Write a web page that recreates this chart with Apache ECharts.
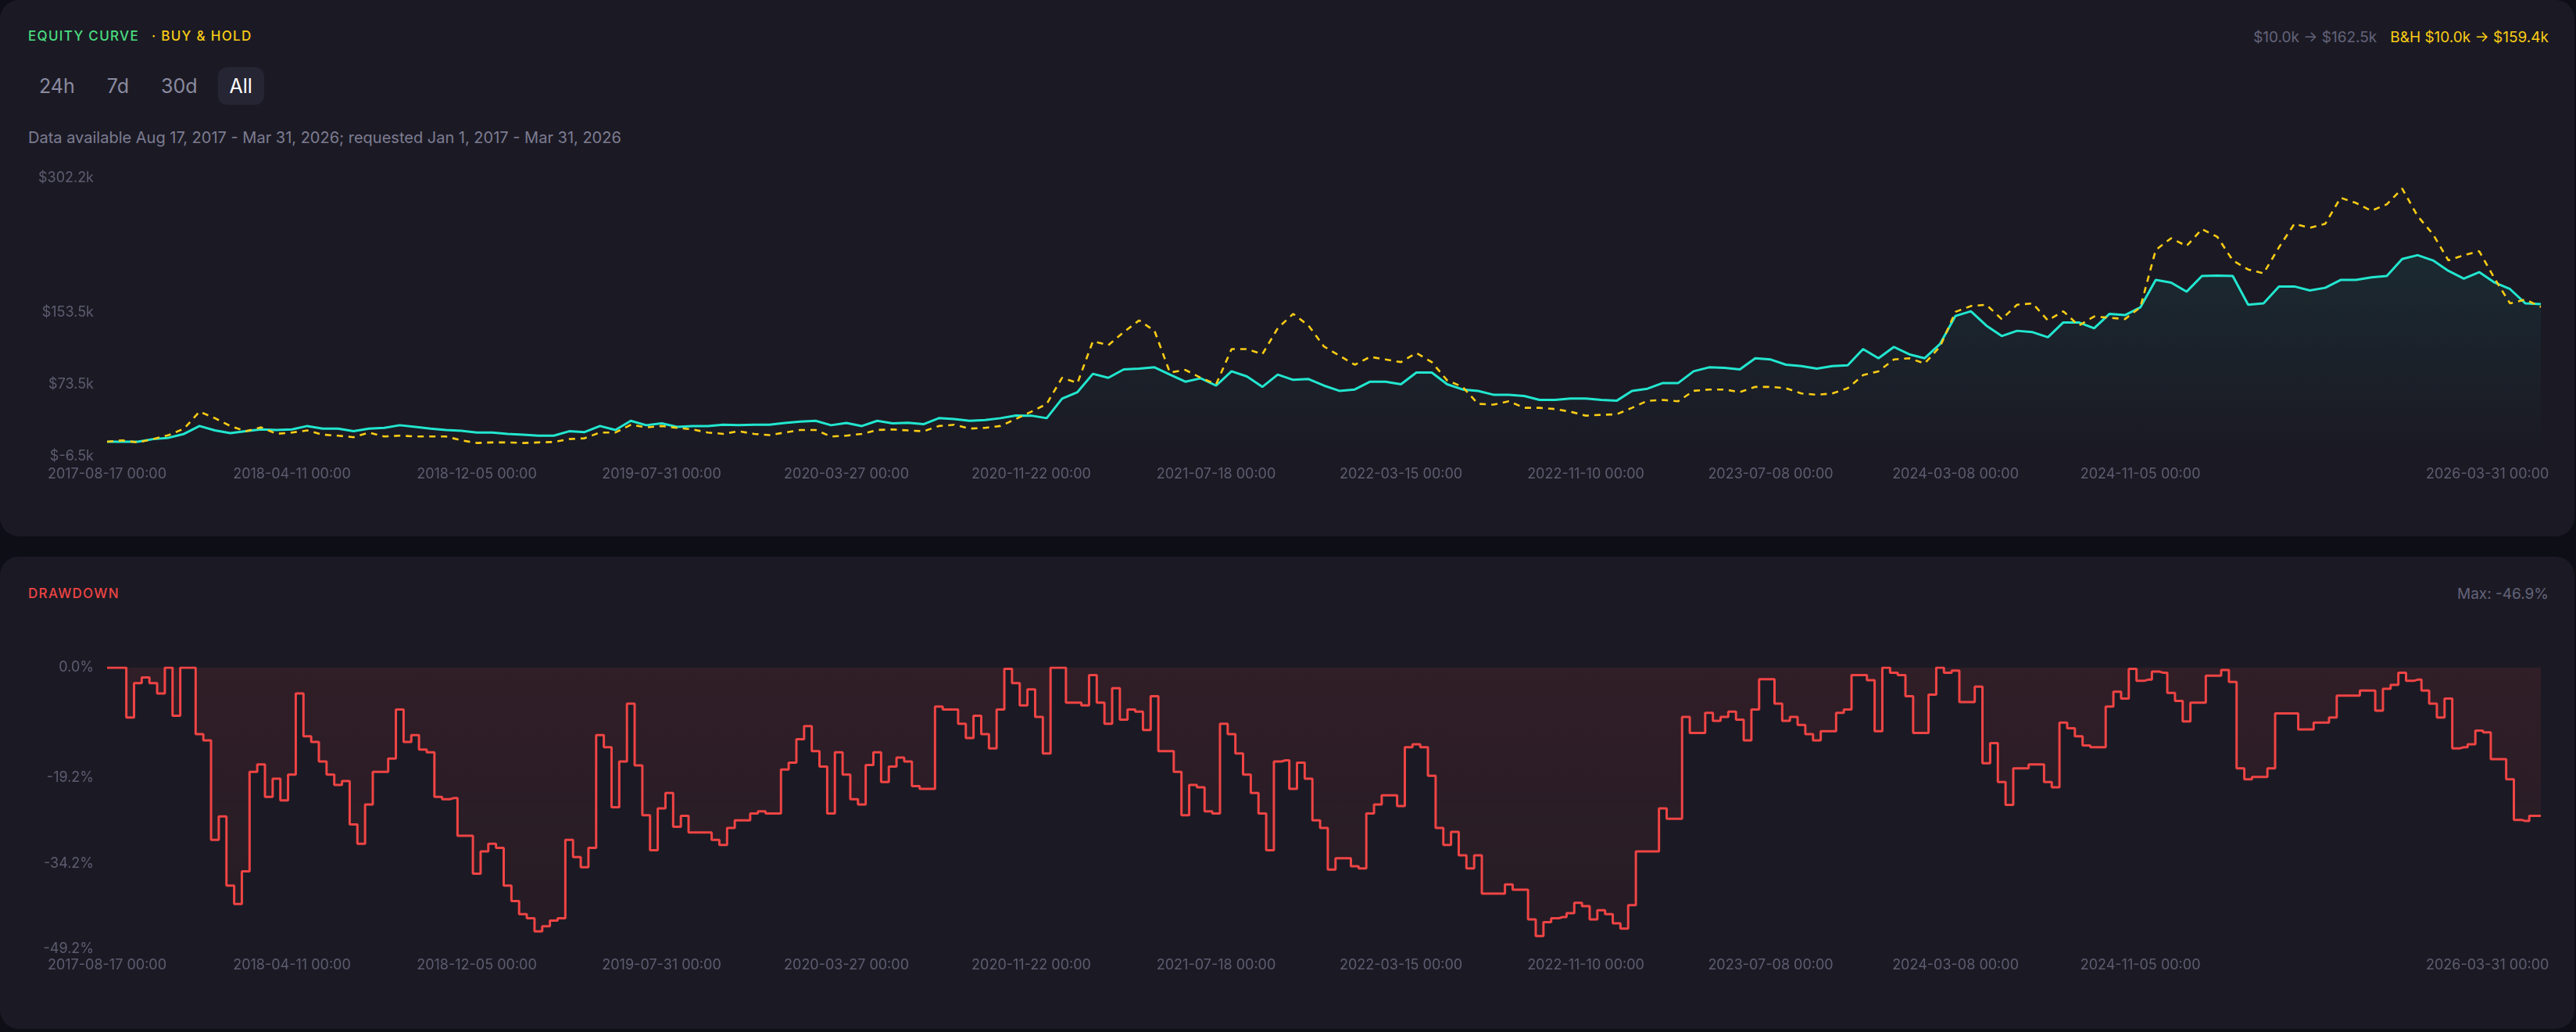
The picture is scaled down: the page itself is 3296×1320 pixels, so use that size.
<!DOCTYPE html>
<html>
<head>
<meta charset="utf-8">
<script src="https://cdn.jsdelivr.net/npm/echarts@6/dist/echarts.min.js"></script>
<style>
html,body{margin:0;padding:0;background:#0e0e16;width:3296px;height:1320px;overflow:hidden;font-family:Inter,'Noto Sans',sans-serif;}
.card{position:absolute;left:0;width:3294px;background:#1b1a24;border-radius:24px;}
#c1{top:0;height:686px;}
#c2{top:712px;height:604px;}
.abs{position:absolute;white-space:nowrap;}
.ttl{font-size:17px;letter-spacing:1.3px;font-weight:500;line-height:20px;}
.btns{position:absolute;left:35px;top:86px;height:48px;display:flex;gap:11px;}
.btn{padding:0 15px;line-height:48px;height:48px;font-size:25px;color:#8b8aa0;border-radius:12px;}
.btn.on{background:#262533;color:#ffffff;}
.sub{font-size:20px;line-height:28px;color:#7d7c92;}
.rt{font-size:19px;line-height:24px;}
</style>
</head>
<body>
<div class="card" id="c1">
  <div class="abs ttl" style="left:36px;top:36px;"><span style="color:#4ade80">EQUITY CURVE</span><span style="color:#facc15;margin-left:16px">· BUY &amp; HOLD</span></div>
  <div class="abs rt" style="right:33px;top:36px;"><span style="color:#64637a">$10.0k → $162.5k</span><span style="color:#facc15;margin-left:17px">B&amp;H $10.0k → $159.4k</span></div>
  <div class="btns"><div class="btn">24h</div><div class="btn">7d</div><div class="btn">30d</div><div class="btn on">All</div></div>
  <div class="abs sub" style="left:36px;top:162px;">Data available Aug 17, 2017 - Mar 31, 2026; requested Jan 1, 2017 - Mar 31, 2026</div>
  <div id="chart1" style="position:absolute;left:34px;top:200px;width:3228px;height:450px;"></div>
</div>
<div class="card" id="c2">
  <div class="abs ttl" style="left:36px;top:37px;color:#ef4444">DRAWDOWN</div>
  <div class="abs rt" style="right:33px;top:36px;color:#64637a">Max: -46.9%</div>
  <div id="chart2" style="position:absolute;left:34px;top:118px;width:3228px;height:440px;"></div>
</div>
<script>
// x-axis label dates (shown ticks) and number of samples between them
const xLabelDates = ['2017-08-17','2018-04-11','2018-12-05','2019-07-31','2020-03-27','2020-11-22','2021-07-18','2022-03-15','2022-11-10','2023-07-08','2024-03-08','2024-11-05','2026-03-31'];
const equitySamplesPerGap = [12,12,12,12,12,12,12,12,12,12,12,26];
const ddSamplesPerGap = [24,24,24,24,24,24,24,24,24,24,24,52];

// equity curve (k$)
const equity = [10.0,10.0,10.0,12.9,14.4,18.7,27.4,22.5,19.6,21.6,23.6,23.0,23.6,27.4,24.5,24.5,21.6,24.5,25.4,28.3,
26.5,24.5,23.0,22.2,20.2,20.2,18.7,17.8,16.7,16.7,21.6,20.7,27.4,23.0,33.2,28.3,30.3,26.5,27.4,27.4,
28.8,28.3,28.8,28.8,30.8,32.3,33.2,28.3,30.8,27.4,33.2,30.3,31.1,29.4,36.1,35.2,33.2,34.1,36.1,39.0,
38.9,36.1,57.8,65.0,85.3,80.9,90.2,91.0,92.5,84.4,76.6,80.3,72.2,88.1,82.4,70.8,84.4,78.6,79.5,72.2,
66.4,67.9,76.6,76.6,73.7,86.7,86.7,73.7,67.9,66.4,62.1,62.1,60.7,56.3,56.3,57.8,57.8,56.3,55.4,66.4,
68.8,75.1,75.1,88.1,92.5,91.9,90.2,102.6,101.2,95.4,93.9,91.0,93.9,94.8,112.7,102.6,115.1,106.9,102.6,118.5,
149.5,154.7,138.8,127.2,133.0,131.5,125.8,142.3,142.3,135.9,151.8,150.4,159.0,189.4,186.5,176.4,193.8,194.3,193.8,161.9,
163.4,182.2,182.2,177.8,180.7,189.4,189.4,192.3,193.8,212.6,216.9,211.1,199.5,190.9,198.1,186.5,179.3,163.4,162.5];

// buy & hold (k$)
const buyHold = [10.0,11.5,9.2,12.9,17.3,24.5,43.3,36.1,27.4,21.6,25.9,18.7,20.2,22.5,17.8,16.7,15.0,20.2,15.8,16.7,
15.8,15.8,15.8,11.5,8.6,9.2,9.2,8.6,9.2,9.7,12.9,13.8,20.2,20.2,28.8,25.9,27.4,25.4,23.6,20.2,
18.7,21.6,18.7,17.3,20.2,23.0,23.0,15.8,16.7,18.7,23.0,23.6,22.5,21.6,27.4,28.8,24.5,25.4,27.4,35.2,
43.3,51.9,80.9,75.2,121.4,117.1,131.5,144.6,133.0,86.7,89.6,80.9,73.7,112.7,112.7,107.0,135.9,151.8,138.8,115.6,
105.5,95.4,104.1,101.2,98.3,108.4,98.3,78.0,70.8,52.0,51.1,54.9,47.6,47.6,46.2,43.3,38.9,39.8,40.4,47.6,
55.4,56.3,54.9,66.4,67.9,67.9,65.0,70.8,70.8,69.3,63.5,62.1,63.5,69.3,83.8,88.1,101.2,102.6,96.8,115.6,
154.0,160.5,161.9,146.0,161.9,163.4,144.6,154.7,138.8,148.9,147.5,146.0,159.0,222.7,235.7,227.0,245.8,237.2,211.1,201.0,
196.7,225.6,251.6,247.3,251.6,280.6,274.8,266.1,273.3,290.7,260.3,240.1,211.1,216.9,221.3,190.9,163.4,167.7,159.4];

// drawdown (%)
const drawdown = [0,0,0,-8.7,-2.7,-1.7,-2.7,-4.5,0,-8.4,0,0,-11.6,-12.7,-30.1,-26.0,-38.1,-41.3,-35.6,-18.2,
-16.9,-22.6,-19.4,-23.2,-18.7,-4.5,-12.0,-13.0,-16.4,-18.7,-20.5,-19.8,-27.4,-30.8,-23.9,-18.2,-18.2,-15.9,-7.3,-13.0,
-11.8,-14.3,-14.8,-22.6,-23.0,-22.8,-29.4,-29.4,-36.0,-32.1,-30.8,-31.5,-38.1,-40.8,-43.1,-43.8,-46.1,-45.2,-44.2,-43.8,
-30.1,-33.1,-34.9,-31.5,-11.8,-13.9,-24.4,-16.4,-6.3,-17.1,-25.8,-31.9,-24.6,-21.9,-27.8,-25.9,-28.8,-28.8,-28.8,-30.1,
-31.0,-28.0,-26.7,-26.7,-25.5,-25.1,-25.5,-25.5,-17.8,-16.6,-12.5,-10.2,-14.6,-17.3,-25.5,-14.8,-18.7,-23.0,-23.9,-17.0,
-14.8,-20.0,-17.3,-15.7,-16.4,-20.7,-21.2,-21.2,-6.8,-7.3,-7.3,-9.8,-12.3,-8.4,-11.6,-14.1,-7.3,-0.2,-2.7,-6.6,
-3.8,-8.6,-15.0,0,0,-6.1,-6.1,-6.6,-1.3,-6.1,-9.8,-3.6,-9.1,-7.3,-7.7,-10.9,-5.0,-14.6,-14.6,-18.2,
-25.8,-20.5,-20.9,-25.1,-25.5,-9.8,-11.6,-15.0,-18.7,-21.9,-25.5,-31.9,-16.4,-16.2,-21.2,-16.6,-19.4,-26.7,-28.0,-35.3,
-33.3,-33.3,-34.7,-35.1,-25.5,-23.9,-22.3,-22.3,-24.2,-13.9,-13.4,-13.9,-18.9,-28.0,-31.0,-28.7,-32.8,-35.1,-32.8,-39.5,
-39.5,-39.5,-37.9,-38.8,-38.8,-44.0,-46.9,-44.5,-43.8,-43.6,-42.9,-41.1,-41.7,-44.0,-42.4,-43.1,-44.7,-45.6,-41.5,-32.1,
-32.1,-32.1,-24.6,-26.4,-26.4,-8.6,-11.4,-11.4,-7.9,-9.3,-8.6,-7.7,-9.1,-12.7,-7.3,-2.0,-2.0,-6.3,-9.3,-8.6,
-10.0,-11.6,-12.7,-11.1,-11.1,-7.9,-7.3,-1.3,-1.3,-2.2,-11.1,0,-0.9,-1.3,-5.0,-11.4,-11.4,-4.7,0,-0.9,
-0.5,-6.0,-6.0,-3.3,-16.7,-13.2,-20.0,-24.0,-17.6,-17.6,-16.9,-16.9,-20.0,-20.9,-9.6,-10.6,-12.0,-13.6,-13.9,-13.9,
-6.8,-4.2,-5.4,-0.2,-2.3,-2.1,-0.7,-0.9,-4.4,-5.8,-9.4,-6.1,-6.1,-1.4,-1.4,-0.4,-2.5,-17.6,-19.5,-19.1,
-19.1,-17.6,-8.0,-8.0,-8.0,-10.8,-10.8,-9.6,-9.6,-8.7,-4.9,-4.9,-4.9,-4.0,-4.0,-7.5,-3.7,-3.0,-0.9,-2.3,
-2.1,-4.0,-6.3,-8.7,-5.4,-14.1,-13.9,-13.4,-11.0,-11.3,-16.0,-16.0,-19.5,-26.6,-26.8,-25.9,-25.9];

// axis tick labels
const equityTicks = [-6.5, 73.5, 153.5, 302.2];
const equityMin = -6.5, equityMax = 302.2;
const ddTicks = [-49.2, -34.2, -19.2, 0];
const ddMin = -49.2, ddMax = 0;

// build the category dates between the labelled dates
const pad = n => String(n).padStart(2,'0');
function buildAxis(samplesPerGap){
  const dates = [];
  const labelIndex = new Set();
  let idx = 0;
  for (let g = 0; g < samplesPerGap.length; g++) {
    const a = Date.parse(xLabelDates[g] + 'T00:00:00Z');
    const b = Date.parse(xLabelDates[g+1] + 'T00:00:00Z');
    const n = samplesPerGap[g];
    labelIndex.add(idx);
    for (let k = 0; k < n; k++) {
      const t = new Date(a + Math.round((b - a) * k / n / 86400000) * 86400000);
      dates.push(t.getUTCFullYear() + '-' + pad(t.getUTCMonth()+1) + '-' + pad(t.getUTCDate()) + ' 00:00');
      idx++;
    }
  }
  dates.push(xLabelDates[xLabelDates.length-1] + ' 00:00');
  labelIndex.add(idx);
  return {dates, labelIndex, last: idx};
}
const axis1 = buildAxis(equitySamplesPerGap);
const axis2 = buildAxis(ddSamplesPerGap);

const axisTxt = '#5d5c70';
const FONT = 'Inter';
function xAxisCfg(ax, margin){
  return {
    type:'category', data:ax.dates, boundaryGap:false,
    axisLine:{show:false}, axisTick:{show:false}, splitLine:{show:false},
    axisLabel:{color:axisTxt, fontSize:18, fontFamily:FONT, margin:margin,
      interval:(i)=>ax.labelIndex.has(i),
      formatter:(v, i)=> i === ax.last ? '{last|' + v + '}' : v,
      rich:{last:{width:294, align:'left', color:axisTxt, fontSize:18, fontFamily:FONT}}}
  };
}

const c1 = echarts.init(document.getElementById('chart1'), null, {renderer:'canvas'});
c1.setOption({
  animation:false,
  backgroundColor:'transparent',
  grid:{left:103, right:11, top:28, bottom:66, containLabel:false, outerBoundsMode:'none'},
  xAxis: xAxisCfg(axis1, 14),
  yAxis:{type:'value', min:equityMin, max:equityMax,
    axisLine:{show:false}, axisTick:{show:false}, splitLine:{show:false},
    axisLabel:{customValues:equityTicks, color:axisTxt, fontSize:18, fontFamily:FONT, margin:17,
      formatter:(v)=> equityTicks.some(t=>Math.abs(t-v)<1e-6) ? '$' + v.toFixed(1) + 'k' : ''}
  },
  series:[
    {name:'Equity', type:'line', data:equity, symbol:'none', z:3,
     lineStyle:{color:'#22e6cf', width:3},
     areaStyle:{origin:'start', color:new echarts.graphic.LinearGradient(0,0,0,1,[
       {offset:0,color:'rgba(34,230,207,0.11)'},{offset:1,color:'rgba(34,230,207,0)'}])}},
    {name:'Buy & Hold', type:'line', data:buyHold, symbol:'none', z:4,
     lineStyle:{color:'#facc15', width:2.6, type:[8,7]}}
  ]
});

const c2 = echarts.init(document.getElementById('chart2'), null, {renderer:'canvas'});
c2.setOption({
  animation:false,
  backgroundColor:'transparent',
  grid:{left:103, right:11, top:24, bottom:56, containLabel:false, outerBoundsMode:'none'},
  xAxis: xAxisCfg(axis2, 12),
  yAxis:{type:'value', min:ddMin, max:ddMax,
    axisLine:{show:false}, axisTick:{show:false}, splitLine:{show:false},
    axisLabel:{customValues:ddTicks, color:axisTxt, fontSize:18, fontFamily:FONT, margin:17,
      formatter:(v)=> ddTicks.some(t=>Math.abs(t-v)<1e-6) ? v.toFixed(1) + '%' : ''}
  },
  series:[
    {name:'Drawdown', type:'line', data:drawdown, symbol:'none', step:'middle',
     lineStyle:{color:'#ef4444', width:3},
     areaStyle:{color:new echarts.graphic.LinearGradient(0,0,0,1,[
       {offset:0,color:'rgba(239,68,68,0.15)'},{offset:1,color:'rgba(239,68,68,0.07)'}])}}
  ]
});
</script>
</body>
</html>
